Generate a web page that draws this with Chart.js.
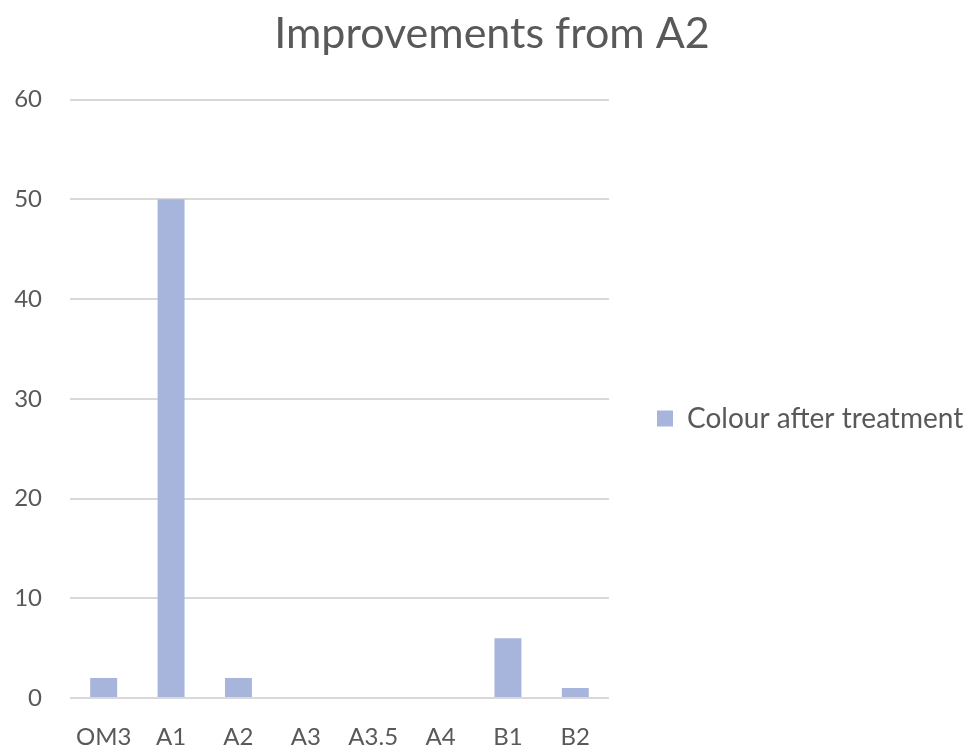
<!DOCTYPE html>
<html>
<head>
<meta charset="utf-8">
<title>Improvements from A2</title>
<script src="https://cdn.jsdelivr.net/npm/chart.js"></script>
<style>
  body, html { margin: 0; background: #fff; overflow: hidden; }
</style>
</head>
<body>
<canvas id="myChart" width="966" height="749"></canvas>
<script>
  const categories = ["OM3", "A1", "A2", "A3", "A3.5", "A4", "B1", "B2"];
  const colourAfterTreatment = [2, 50, 2, 0, 0, 0, 6, 1];
  const seriesLabel = "Colour after treatment";

  const textColor = "#595959";
  const fontFamily = "Lato, 'Open Sans', sans-serif";

  // legend sits in a fixed column on the right, like the original
  const legendWidth = 357;
  const legendShift = { x: 38, y: 40 };
  const titleShift = 9;

  function shiftDraw(box, dx, dy) {
    const draw = box.draw;
    box.draw = function () {
      const c = this.ctx;
      c.save();
      c.translate(dx, dy);
      draw.apply(this, arguments);
      c.restore();
    };
  }

  const boxFix = {
    id: "boxFix",
    beforeLayout(chart) {
      const legend = chart.legend;
      if (legend && !legend._fixed) {
        legend._fixed = true;
        const fit = legend.fit;
        legend.fit = function () {
          fit.call(this);
          this.width = legendWidth;
        };
        shiftDraw(legend, legendShift.x, legendShift.y);
      }
      const title = chart.titleBlock;
      if (title && !title._fixed) {
        title._fixed = true;
        shiftDraw(title, titleShift, 0);
      }
    },
  };

  const ctx = document.getElementById("myChart").getContext("2d");
  const myChart = new Chart(ctx, {
    type: "bar",
    data: {
      labels: categories,
      datasets: [{
        label: seriesLabel,
        data: colourAfterTreatment,
        backgroundColor: "#a7b5dc",
        borderWidth: 0,
        categoryPercentage: 1,
        barPercentage: 0.4,
      }],
    },
    options: {
      responsive: false,
      animation: false,
      layout: { padding: { left: 0, right: 0, top: 8, bottom: 0 } },
      plugins: {
        title: {
          display: true,
          text: "Improvements from A2",
          color: textColor,
          font: { family: fontFamily, size: 43, weight: "normal" },
          padding: { top: 0, bottom: 40 },
        },
        legend: {
          position: "right",
          labels: {
            color: textColor,
            font: { family: fontFamily, size: 28 },
            boxWidth: 16,
            boxHeight: 16,
            padding: 10,
          },
        },
        tooltip: { enabled: false },
      },
      scales: {
        x: {
          grid: { display: false, drawTicks: false },
          border: { display: false },
          ticks: { color: textColor, font: { family: fontFamily, size: 24 }, padding: 25, maxRotation: 0 },
          afterFit(scale) { scale.height = 51; },
        },
        y: {
          min: 0,
          max: 60,
          grid: { color: "#d9d9d9", lineWidth: 2, drawTicks: false },
          border: { display: false },
          ticks: { stepSize: 10, color: textColor, font: { family: fontFamily, size: 24 }, padding: 28 },
          afterFit(scale) { scale.width = 70; },
        },
      },
    },
    plugins: [boxFix],
  });
</script>
</body>
</html>
